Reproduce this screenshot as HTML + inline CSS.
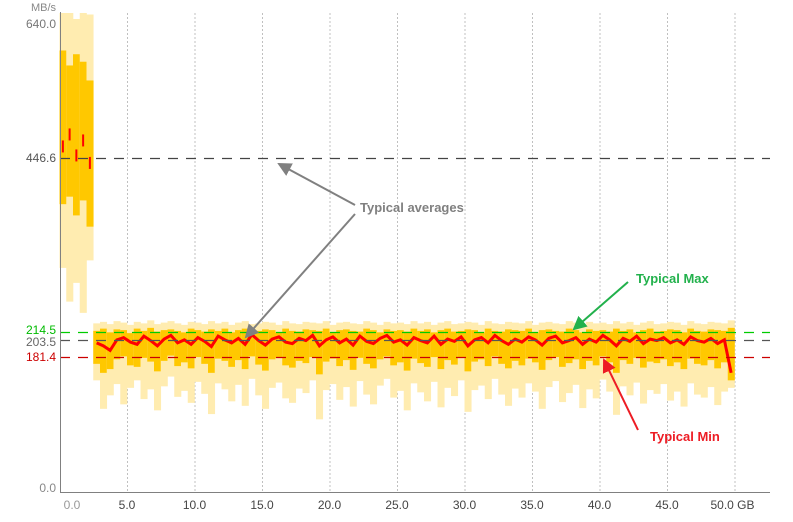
<!DOCTYPE html>
<html><head><meta charset="utf-8">
<style>
html,body{margin:0;padding:0;background:#fff;}
svg{display:block;font-family:"Liberation Sans",sans-serif;}
</style></head>
<body>
<svg id="chart" width="793" height="522" viewBox="0 0 793 522" xmlns="http://www.w3.org/2000/svg">
<defs>
<marker id="agr" markerWidth="14" markerHeight="14" refX="12" refY="7" orient="auto" markerUnits="userSpaceOnUse" viewBox="0 0 14 14"><path d="M0,0 L14,7 L0,14 z" fill="#22b14c"/></marker>
<marker id="ar" markerWidth="14" markerHeight="14" refX="12" refY="7" orient="auto" markerUnits="userSpaceOnUse" viewBox="0 0 14 14"><path d="M0,0 L14,7 L0,14 z" fill="#ed1c24"/></marker>
<marker id="ag2" markerWidth="14" markerHeight="14" refX="12" refY="7" orient="auto" markerUnits="userSpaceOnUse" viewBox="0 0 14 14"><path d="M0,0 L14,7 L0,14 z" fill="#808080"/></marker>
</defs>
<g id="grid"></g>
<g id="bars"></g>
<g id="refs"></g>
<g id="axes"></g>
<g id="notes">
<line x1="355" y1="205" x2="279" y2="164" stroke="#808080" stroke-width="2" marker-end="url(#ag2)"/>
<line x1="355" y1="214" x2="246" y2="337" stroke="#808080" stroke-width="2" marker-end="url(#ag2)"/>
<text x="360" y="212" font-size="13" font-weight="bold" fill="#808080">Typical averages</text>
<line x1="628" y1="282" x2="574" y2="329" stroke="#22b14c" stroke-width="2" marker-end="url(#agr)"/>
<text x="636" y="283" font-size="13" font-weight="bold" fill="#22b14c">Typical Max</text>
<line x1="638" y1="430" x2="604" y2="360" stroke="#ed1c24" stroke-width="2" marker-end="url(#ar)"/>
<text x="650" y="441" font-size="13" font-weight="bold" fill="#ed1c24">Typical Min</text>
</g>
</svg>
<script>
const xTicks=[0,5,10,15,20,25,30,35,40,45,50];
const xTickLabels=["0.0","5.0","10.0","15.0","20.0","25.0","30.0","35.0","40.0","45.0","50.0 GB"];
const yTickValues=[0,181.4,203.5,214.5,446.6,640];
const yTickLabels=["0.0","181.4","203.5","214.5","446.6","640.0"];
const refValues=[446.6,214.5,203.5,181.4];
const binStart=[0,0.5,1,1.5,2];
const binWidth=0.5;
const lightHi=[640,640,632,640,638,226,228,225,229,227,224,228,226,230,225,227,229,226,224,228,227,225,229,226,228,224,227,229,225,226,228,227,224,229,226,225,228,227,226,229,224,227,228,226,225,229,227,224,228,226,227,225,229,226,228,224,227,229,225,226,228,227,224,229,226,225,228,227,226,229,224,227,228,226,225,229,227,224,228,226,227,225,229,226,228,224,227,229,225,226,228,227,224,229,226,225,228,227,226,230];
const hiVals=[590,570,585,575,550,216,219,214,218,217,213,219,216,220,215,217,218,216,214,219,217,215,218,216,219,214,217,219,215,216,218,217,214,219,216,215,218,217,216,219,214,217,218,216,215,219,217,214,218,216,217,215,219,216,218,214,217,219,215,216,218,217,214,219,216,215,218,217,216,219,214,217,218,216,215,219,217,214,218,216,217,215,219,216,218,214,217,219,215,216,218,217,214,219,216,215,218,217,216,220];
const avgVals=[462,478,450,470,440,200,196,190,204,207,201,198,209,203,196,205,210,200,204,198,207,202,195,209,204,200,206,198,211,203,197,205,208,201,199,206,203,210,196,204,208,200,205,197,209,202,199,206,210,201,204,197,207,203,200,209,198,205,202,208,196,204,207,200,210,203,198,205,201,208,204,197,206,209,200,203,207,198,205,201,210,204,196,206,202,209,199,205,203,207,200,204,198,208,203,201,206,199,204,160];
const loVals=[385,395,370,390,355,172,160,165,178,182,170,168,180,175,162,176,183,169,174,166,181,172,160,179,176,168,177,165,182,171,163,178,180,170,167,176,173,181,158,175,179,169,177,164,180,172,166,178,182,170,174,163,179,173,168,181,165,177,171,180,162,175,178,169,182,172,166,176,170,179,174,164,177,181,168,173,178,165,176,170,182,174,160,177,172,180,167,175,173,178,169,174,165,179,172,170,177,166,174,150];
const lightLo=[300,255,280,240,310,150,112,130,145,118,140,150,125,138,110,142,155,128,136,120,148,132,105,146,138,122,144,116,152,130,112,140,147,126,120,139,133,150,98,137,145,124,141,115,149,131,118,143,152,127,136,110,146,134,122,148,114,140,129,150,108,137,143,125,152,131,116,139,127,146,135,112,141,149,121,133,144,113,138,126,151,135,104,142,130,147,119,137,132,145,123,135,115,146,131,127,141,117,135,140];
const x=v=>59.5+v*13.5;
const y=v=>492.8-v*0.7497;
const NS="http://www.w3.org/2000/svg";
function mk(parent,tag,attrs){const e=document.createElementNS(NS,tag);for(const k in attrs)e.setAttribute(k,attrs[k]);document.getElementById(parent).appendChild(e);return e;}
xTicks.forEach((t,i)=>{
 if(t>0){const g=mk('grid','line',{x1:x(t)+0.5,x2:x(t)+0.5,y1:13,y2:492,stroke:'#c0c0c0','stroke-dasharray':'2,2'});
 
 }
 const tx=mk('axes','text',{x:t===0?72:(t===50?x(t)-2:x(t)),y:509,'font-size':12,fill:t===0?'#999':'#444','text-anchor':'middle'});
 tx.textContent=xTickLabels[i];
 
 
});
const n=avgVals.length;
const avgPts=[];
for(let i=0;i<n;i++){
 const s=i<binStart.length?binStart[i]:2.5+(i-binStart.length)*((50-2.5)/(n-binStart.length));
 const w=i<binStart.length?binWidth:(47.5/(n-binStart.length));
 const x0=x(s),x1=x(s+w);
 const lb=mk('bars','rect',{x:x0,y:y(lightHi[i]),width:x1-x0+0.3,height:y(lightLo[i])-y(lightHi[i]),fill:'#ffecb0'});
 
 
 const ob=mk('bars','rect',{x:x0,y:y(hiVals[i]),width:x1-x0+0.3,height:y(loVals[i])-y(hiVals[i]),fill:'#ffc800'});
 
 
 avgPts.push([ (x0+x1)/2, y(avgVals[i]) ]);
}
const pl=mk('bars','polyline',{points:avgPts.slice(binStart.length).map(p=>p.join(',')).join(' '),fill:'none',stroke:'#ff0000','stroke-width':3});


for(let i=0;i<binStart.length;i++){
 const r=mk('bars','rect',{x:avgPts[i][0]-1,y:avgPts[i][1]-6,width:2,height:12,fill:'#ff0000'});
 
 
}
const refColors=['#444444','#00cc00','#555555','#cc0000'];
refValues.forEach((v,i)=>{
 const l=mk('refs','line',{x1:60,x2:770,y1:Math.round(y(v))+0.5,y2:Math.round(y(v))+0.5,stroke:refColors[i],'stroke-width':1.2,'stroke-dasharray':'10,8'});
 
 
});
const yColors=['#888','#cc0000','#666','#00bb00','#555','#777'];
yTickValues.forEach((v,i)=>{
 let yy=y(v)+4; if(v===0)yy=y(v)-1; if(v===640)yy=y(v)+15; if(v===203.5)yy=y(v)+6; if(v===214.5)yy=y(v)+2;
 const t=mk('axes','text',{x:56,y:yy,'font-size':12,fill:yColors[i],'text-anchor':'end'});
 t.textContent=yTickLabels[i];
 
 
});
const ut=mk('axes','text',{x:56,y:11,'font-size':11,fill:'#888','text-anchor':'end'});
ut.textContent='MB/s';


const ya=mk('axes','line',{x1:60.5,x2:60.5,y1:12,y2:493,stroke:'#808080','stroke-width':1});


const xa=mk('axes','line',{x1:60,x2:770,y1:492.5,y2:492.5,stroke:'#808080','stroke-width':1});


</script>
</body></html>
